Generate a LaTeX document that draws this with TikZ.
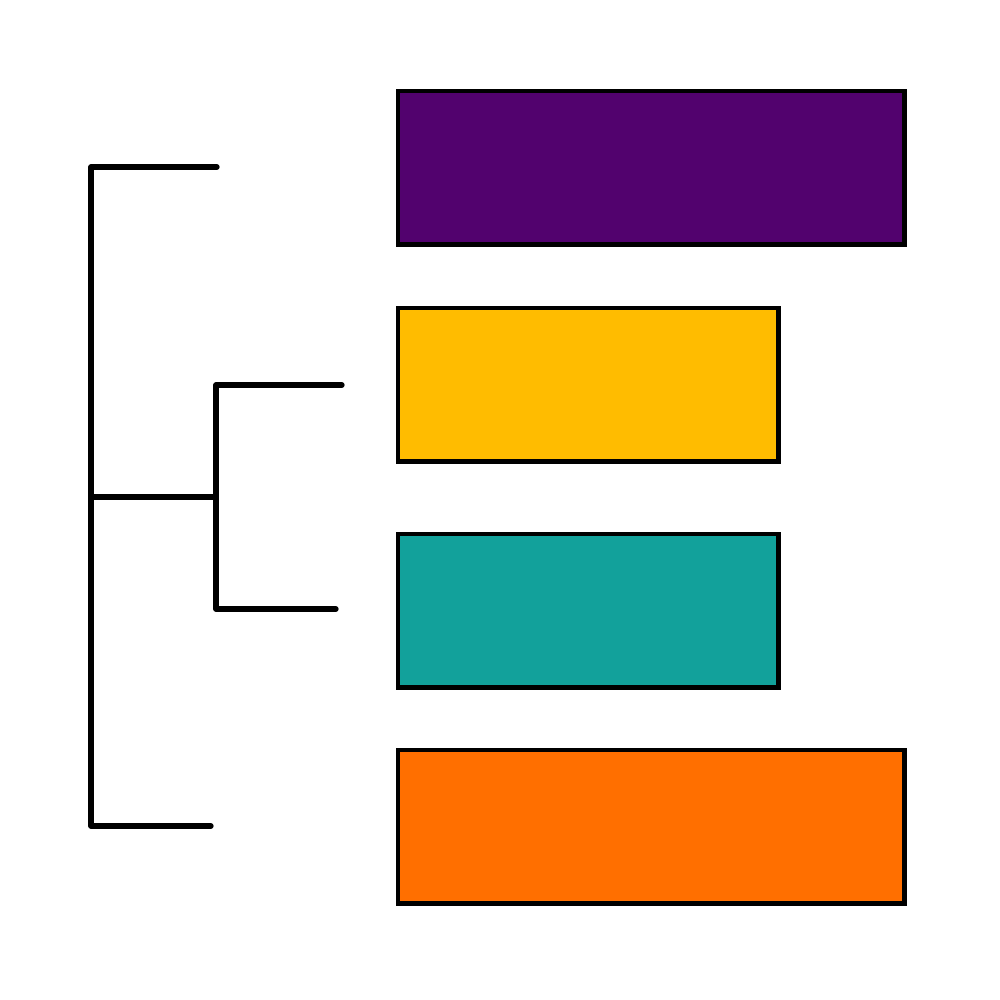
\documentclass[tikz,border=0pt]{standalone}
\usepackage{tikz}

\definecolor{barpurple}{HTML}{52026E}
\definecolor{baryellow}{HTML}{FFBC00}
\definecolor{barteal}{HTML}{12A19B}
\definecolor{barorange}{HTML}{FF6F00}

\tikzset{
	bar/.style={draw=black, line width=1.4pt, anchor=north west, inner sep=0pt, outer sep=0pt, minimum height=1.53cm},
	tree/.style={draw=black, line width=1.5pt, line cap=round, line join=round}
}

\begin{document}
\begin{tikzpicture}[x=0.01cm,y=-0.01cm]
	\useasboundingbox (0,0) rectangle (1000,1000);
	\node[bar, fill=barpurple, minimum width=5.06cm] (B1) at (398,91) {};
	\node[bar, fill=baryellow, minimum width=3.80cm] (B2) at (398,308) {};
	\node[bar, fill=barteal, minimum width=3.80cm] (B3) at (398,534) {};
	\node[bar, fill=barorange, minimum width=5.06cm] (B4) at (398,750) {};
	\coordinate (L1) at (217,167);
	\coordinate (L2) at (342,385);
	\coordinate (L3) at (336,609);
	\coordinate (L4) at (211,826);
	\coordinate (R1) at (91,167);
	\coordinate (R4) at (91,826);
	\coordinate (RM) at (91,497);
	\coordinate (J) at (216,497);
	\coordinate (J2) at (216,385);
	\coordinate (J3) at (216,609);
	\draw[tree] (L1) -- (R1) -- (R4) -- (L4);
	\draw[tree] (RM) -- (J);
	\draw[tree] (L2) -- (J2) -- (J3) -- (L3);
\end{tikzpicture}
\end{document}
